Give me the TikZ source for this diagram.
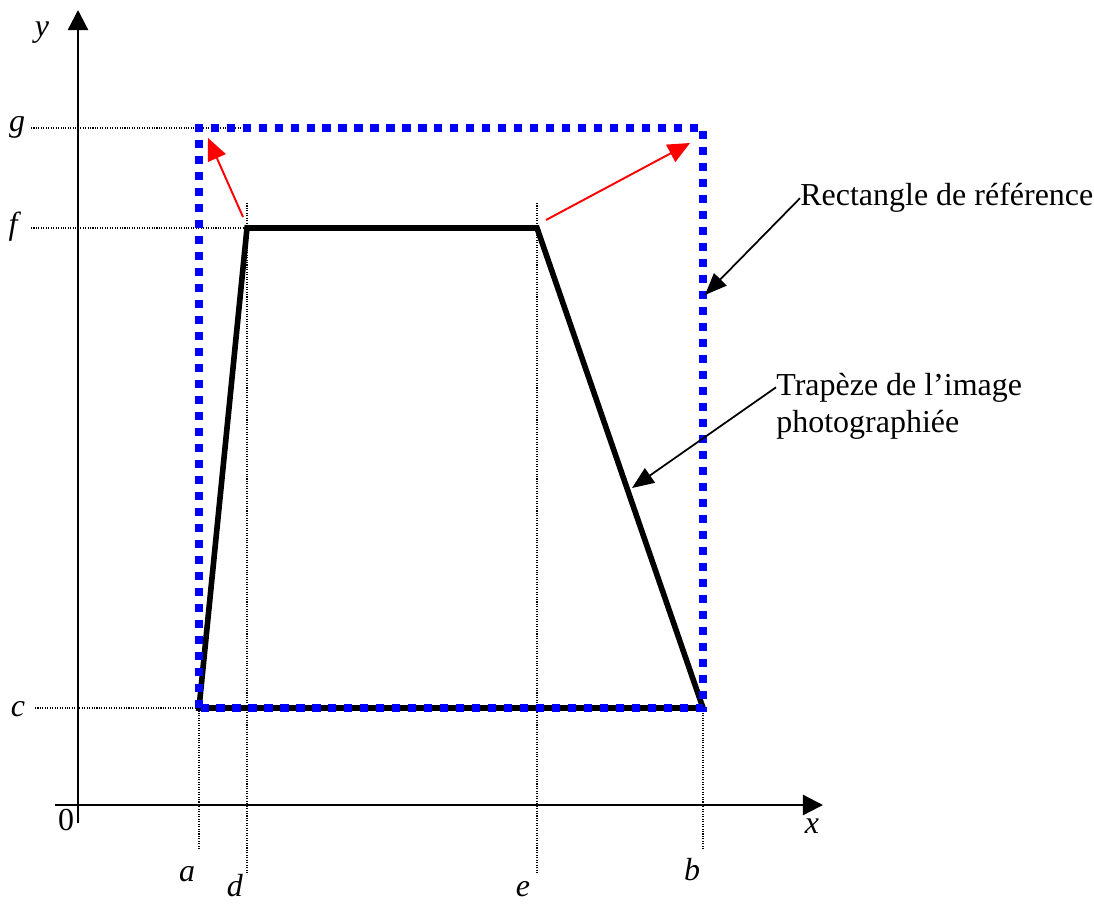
\documentclass[tikz,border=0pt]{standalone}
\usepackage{fontspec}
\setmainfont{Liberation Serif}
\usetikzlibrary{arrows.meta, positioning}
\definecolor{frameblue}{RGB}{0, 0, 255}
\definecolor{liftred}{RGB}{255, 0, 0}

\begin{document}
\begin{tikzpicture}[x=0.02cm, y=-0.02cm, font=\fontsize{18.2}{21}\selectfont,
        guide/.style={line width=0.8pt, dash pattern=on 0.6pt off 0.8pt},
        axis/.style={line width=1.3pt, -{Triangle[length=11.4pt, width=11.4pt]}},
        pointer/.style={line width=1pt, -{Triangle[length=12.5pt, width=10pt]}},
        lift/.style={liftred, line width=1.1pt, -{Triangle[length=12.5pt, width=11pt]}},
        tick/.style={anchor=base, inner sep=0pt},
        caption/.style={anchor=base west, inner sep=0pt}]
        \useasboundingbox (0,0) rectangle (1094,905);

        % corners of the shapes
        \coordinate (A) at (199,708);
        \coordinate (B) at (703,708);
        \coordinate (D) at (247,228);
        \coordinate (E) at (537,228);
        \coordinate (G) at (703,128);

        % guide lines
        \draw[guide] (31,128) -- (248,128);
        \draw[guide] (31,228) -- (D);
        \draw[guide] (35,708) -- (A);
        \draw[guide] (A) -- (199,850);
        \draw[guide] (B) -- (703,850);
        \draw[guide] (247,203) -- (247,873);
        \draw[guide] (537,203) -- (537,873);

        % axes
        \coordinate (ybot) at (78,823);
        \coordinate (ytop) at (78,10);
        \coordinate (xleft) at (55,805);
        \coordinate (xright) at (823,805);
        \draw[axis] (ybot) -- (ytop);
        \draw[axis] (xleft) -- (xright);

        % trapezoid and reference rectangle
        \draw[line width=3.2pt, line join=miter] (A) -- (D) -- (E) -- (B) -- cycle;
        \draw[frameblue, line width=5pt, dash pattern=on 4.6pt off 4.5pt] (A) rectangle (G);

        % red lifts
        \coordinate (liftL0) at (243,217);
        \coordinate (liftL1) at (208,138);
        \coordinate (liftR0) at (546,220);
        \coordinate (liftR1) at (690,143);
        \draw[lift] (liftL0) -- (liftL1);
        \draw[lift] (liftR0) -- (liftR1);

        % axis labels
        \node[tick] (ly) at (42,37) {\textit{y}};
        \node[tick] (lg) at (17,132) {\textit{g}};
        \node[tick] (lf) at (15,235) {\textit{f}};
        \node[tick] (lc) at (18,716) {\textit{c}};
        \node[tick] (lzero) at (66,830) {0};
        \node[tick] (lx) at (812,833) {\textit{x}};
        \node[tick] (la) at (187,881) {\textit{a}};
        \node[tick] (lb) at (692,880) {\textit{b}};
        \node[tick] (ld) at (235,896) {\textit{d}};
        \node[tick] (le) at (523,896) {\textit{e}};

        % captions
        \node[caption] (rect) at (800,206) {Rectangle de référence};
        \node[caption] (trap) at (776,395) {Trapèze de l’image};
        \node[caption] (trapb) at (776,432) {photographiée};
        \coordinate (rectpt) at (705,295);
        \coordinate (trappt) at (632,488);
        \draw[pointer] (rect.west) -- (rectpt);
        \draw[pointer] (trap.west) -- (trappt);
    \end{tikzpicture}
\end{document}
